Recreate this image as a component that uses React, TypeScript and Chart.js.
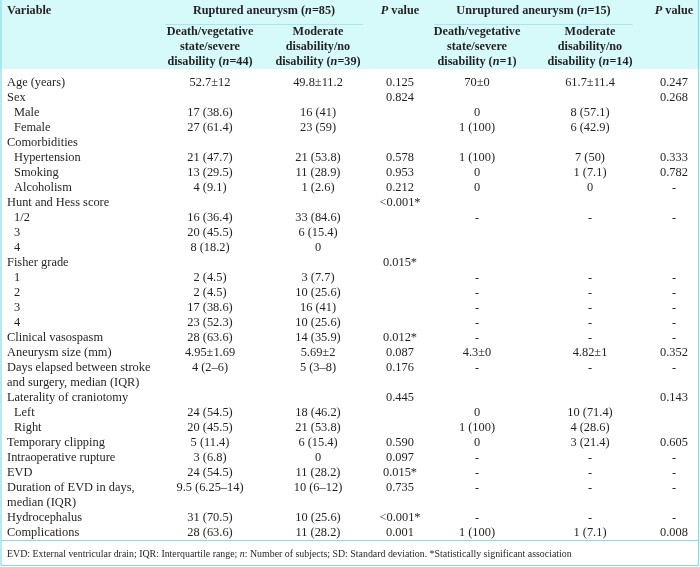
import React, { useEffect, useRef } from "react";
import { Chart, registerables } from "chart.js";

Chart.register(...registerables);

// ---------- DATA ----------
const variables = [
  "Age (years)",
  "Sex",
  "Male",
  "Female",
  "Comorbidities",
  "Hypertension",
  "Smoking",
  "Alcoholism",
  "Hunt and Hess score",
  "1/2",
  "3",
  "4",
  "Fisher grade",
  "1",
  "2",
  "3",
  "4",
  "Clinical vasospasm",
  "Aneurysm size (mm)",
  "Days elapsed between stroke",
  "and surgery, median (IQR)",
  "Laterality of craniotomy",
  "Left",
  "Right",
  "Temporary clipping",
  "Intraoperative rupture",
  "EVD",
  "Duration of EVD in days,",
  "median (IQR)",
  "Hydrocephalus",
  "Complications",
];

// 0 = main variable, 1 = sub-category
const variableLevel = [0, 0, 1, 1, 0, 1, 1, 1, 0, 1, 1, 1, 0, 1, 1, 1, 1, 0, 0, 0, 0, 0, 1, 1, 0, 0, 0, 0, 0, 0, 0];

const rupturedPoor = [
  "52.7±12", "", "17 (38.6)", "27 (61.4)", "", "21 (47.7)", "13 (29.5)", "4 (9.1)",
  "", "16 (36.4)", "20 (45.5)", "8 (18.2)", "", "2 (4.5)", "2 (4.5)", "17 (38.6)", "23 (52.3)",
  "28 (63.6)", "4.95±1.69", "4 (2–6)", "", "", "24 (54.5)", "20 (45.5)", "5 (11.4)", "3 (6.8)",
  "24 (54.5)", "9.5 (6.25–14)", "", "31 (70.5)", "28 (63.6)",
];
const rupturedGood = [
  "49.8±11.2", "", "16 (41)", "23 (59)", "", "21 (53.8)", "11 (28.9)", "1 (2.6)",
  "", "33 (84.6)", "6 (15.4)", "0", "", "3 (7.7)", "10 (25.6)", "16 (41)", "10 (25.6)",
  "14 (35.9)", "5.69±2", "5 (3–8)", "", "", "18 (46.2)", "21 (53.8)", "6 (15.4)", "0",
  "11 (28.2)", "10 (6–12)", "", "10 (25.6)", "11 (28.2)",
];
const rupturedP = [
  "0.125", "0.824", "", "", "", "0.578", "0.953", "0.212",
  "<0.001*", "", "", "", "0.015*", "", "", "", "",
  "0.012*", "0.087", "0.176", "", "0.445", "", "", "0.590", "0.097",
  "0.015*", "0.735", "", "<0.001*", "0.001",
];
const unrupturedPoor = [
  "70±0", "", "0", "1 (100)", "", "1 (100)", "0", "0",
  "", "-", "", "", "", "-", "-", "-", "-",
  "-", "4.3±0", "-", "", "", "0", "1 (100)", "0", "-",
  "-", "-", "", "-", "1 (100)",
];
const unrupturedGood = [
  "61.7±11.4", "", "8 (57.1)", "6 (42.9)", "", "7 (50)", "1 (7.1)", "0",
  "", "-", "", "", "", "-", "-", "-", "-",
  "-", "4.82±1", "-", "", "", "10 (71.4)", "4 (28.6)", "3 (21.4)", "-",
  "-", "-", "", "-", "1 (7.1)",
];
const unrupturedP = [
  "0.247", "0.268", "", "", "", "0.333", "0.782", "-",
  "", "-", "", "", "", "-", "-", "-", "-",
  "-", "0.352", "-", "", "0.143", "", "", "0.605", "-",
  "-", "-", "", "-", "0.008",
];

const columns = [rupturedPoor, rupturedGood, rupturedP, unrupturedPoor, unrupturedGood, unrupturedP];

const variableHeader = "Variable";
const groupHeaders = ["Ruptured aneurysm ({n}=85)", "Unruptured aneurysm ({n}=15)"];
const pHeader = "{P} value";
const subHeaders = [
  ["Death/vegetative", "state/severe", "disability ({n}=44)"],
  ["Moderate", "disability/no", "disability ({n}=39)"],
  ["Death/vegetative", "state/severe", "disability ({n}=1)"],
  ["Moderate", "disability/no", "disability ({n}=14)"],
];
const footnote =
  "EVD: External ventricular drain; IQR: Interquartile range; {n}: Number of subjects; SD: Standard deviation. *Statistically significant association";

// ---------- LAYOUT / STYLE ----------
const W = 700;
const H = 567;
const HEADER_H = 74;
const HEADER_BG_H = 69;
const FOOTER_H = 27;
const COL_X = [210, 318, 400, 477, 590, 674]; // column centres on the x scale
const FONT = '"Liberation Serif", "Times New Roman", serif';
const BODY_SIZE = 12.4;
const HEAD_SIZE = 12.2;
const FOOT_SIZE = 9.9;
const TEXT = "#231f20";
const HEADER_BG = "#d6f9fa";
const BORDER = "#86dde6";
const RULE = "#a8e6ee";

function drawRich(
  ctx: CanvasRenderingContext2D,
  text: string,
  x: number,
  y: number,
  align: "left" | "center",
  weight: string,
  size: number
) {
  const parts = text
    .split(/(\{[^}]*\})/)
    .filter((p) => p.length > 0)
    .map((p) => (p.startsWith("{") ? { t: p.slice(1, -1), it: true } : { t: p, it: false }));
  const fontFor = (it: boolean) => `${it ? "italic " : ""}${weight} ${size}px ${FONT}`;
  let total = 0;
  const widths = parts.map((p) => {
    ctx.font = fontFor(p.it);
    const w = ctx.measureText(p.t).width;
    total += w;
    return w;
  });
  let cx = align === "center" ? x - total / 2 : x;
  ctx.textAlign = "left";
  ctx.textBaseline = "alphabetic";
  parts.forEach((p, i) => {
    ctx.font = fontFor(p.it);
    ctx.fillText(p.t, cx, y);
    cx += widths[i];
  });
}

const tablePlugin = {
  id: "tableDraw",
  beforeDraw(chart: any) {
    const ctx: CanvasRenderingContext2D = chart.ctx;
    ctx.save();
    ctx.fillStyle = "#ffffff";
    ctx.fillRect(0, 0, W, H);
    ctx.fillStyle = HEADER_BG;
    ctx.fillRect(0, 0, W, HEADER_BG_H);
    ctx.restore();
  },
  afterDraw(chart: any) {
    const ctx: CanvasRenderingContext2D = chart.ctx;
    const x = chart.scales.x;
    const y = chart.scales.y;
    const area = chart.chartArea;
    ctx.save();
    ctx.fillStyle = TEXT;

    // header
    drawRich(ctx, variableHeader, 7, 14, "left", "bold", HEAD_SIZE);
    const grpCenters = [
      (x.getPixelForValue(COL_X[0]) + x.getPixelForValue(COL_X[1])) / 2,
      (x.getPixelForValue(COL_X[3]) + x.getPixelForValue(COL_X[4])) / 2,
    ];
    groupHeaders.forEach((g, i) => drawRich(ctx, g, grpCenters[i], 14, "center", "bold", HEAD_SIZE));
    drawRich(ctx, pHeader, x.getPixelForValue(COL_X[2]), 14, "center", "bold", HEAD_SIZE);
    drawRich(ctx, pHeader, x.getPixelForValue(COL_X[5]), 14, "center", "bold", HEAD_SIZE);

    // rules under group headers
    ctx.strokeStyle = RULE;
    ctx.lineWidth = 1;
    grpCenters.forEach((c) => {
      ctx.beginPath();
      ctx.moveTo(c - 99, 24.5);
      ctx.lineTo(c + 99, 24.5);
      ctx.stroke();
    });

    const subCols = [0, 1, 3, 4];
    subHeaders.forEach((lines, i) => {
      const cx = x.getPixelForValue(COL_X[subCols[i]]);
      lines.forEach((ln, j) => drawRich(ctx, ln, cx, 35 + j * 15, "center", "bold", HEAD_SIZE));
    });

    // body
    variables.forEach((v, r) => {
      const py = y.getPixelForValue(r) + 4;
      drawRich(ctx, v, variableLevel[r] ? 14 : 7, py, "left", "normal", BODY_SIZE);
      columns.forEach((col, c) => {
        const val = col[r];
        if (val) drawRich(ctx, val, x.getPixelForValue(COL_X[c]), py, "center", "normal", BODY_SIZE);
      });
    });

    // borders
    ctx.strokeStyle = BORDER;
    ctx.lineWidth = 1.2;
    ctx.beginPath();
    ctx.moveTo(1, 0);
    ctx.lineTo(1, H - 1.5);
    ctx.moveTo(W - 1.5, 0);
    ctx.lineTo(W - 1.5, H - 1.5);
    ctx.moveTo(1, area.bottom + 0.5);
    ctx.lineTo(W - 1.5, area.bottom + 0.5);
    ctx.moveTo(1, H - 1.5);
    ctx.lineTo(W - 1.5, H - 1.5);
    ctx.stroke();

    // footnote
    ctx.fillStyle = TEXT;
    drawRich(ctx, footnote, 7, area.bottom + 16.5, "left", "normal", FOOT_SIZE);
    ctx.restore();
  },
};

export default function App() {
  const ref = useRef<HTMLCanvasElement | null>(null);
  useEffect(() => {
    if (!ref.current) return;
    const chart = new Chart(ref.current, {
      type: "scatter",
      data: { datasets: [] },
      options: {
        responsive: false,
        animation: false,
        devicePixelRatio: 1,
        layout: { padding: { top: HEADER_H, bottom: FOOTER_H, left: 0, right: 0 } },
        plugins: { legend: { display: false }, tooltip: { enabled: false } },
        scales: {
          x: { type: "linear", min: 0, max: W, display: false },
          y: { type: "category", labels: variables, offset: true, display: false },
        },
      },
      plugins: [tablePlugin],
    } as any);
    return () => chart.destroy();
  }, []);
  return (
    <div style={{ position: "absolute", left: 0, top: 0, width: W, height: H }}>
      <canvas ref={ref} width={W} height={H} style={{ display: "block", width: W, height: H }} />
    </div>
  );
}
